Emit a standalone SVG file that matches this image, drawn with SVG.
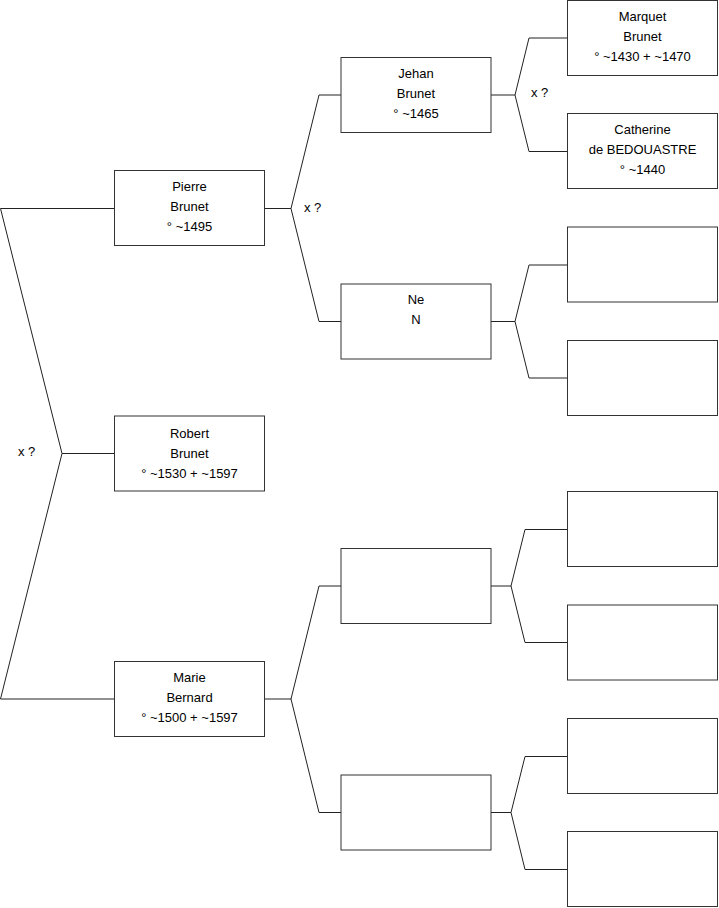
<svg xmlns="http://www.w3.org/2000/svg" width="719" height="908" viewBox="0 0 719 908">
<style>
.box{fill:#fff;stroke:#333;stroke-width:1}
.ln{fill:none;stroke:#222;stroke-width:1}
text{font-family:"Liberation Sans",Arial,sans-serif;font-size:13px;fill:#000;text-anchor:middle}
.lbl{text-anchor:start}
</style>
<rect width="719" height="908" fill="#fff"/>
<g id="connectors">
<polyline class="ln" points="114,208.5 0.5,208.5 62,453.5 0.5,699 114,699"/>
<line class="ln" x1="62" y1="453.5" x2="114" y2="453.5"/>
<polyline class="ln" points="341,95 319,95 291,208.5 319,321.5 341,321.5"/>
<line class="ln" x1="265" y1="208.5" x2="291" y2="208.5"/>
<polyline class="ln" points="341,586 319,586 291,699 319,812.5 341,812.5"/>
<line class="ln" x1="265" y1="699" x2="291" y2="699"/>
<polyline class="ln" points="567,38 529,38 515,95 529,151.5 567,151.5"/>
<line class="ln" x1="491" y1="95" x2="515" y2="95"/>
<polyline class="ln" points="567,265 529,265 515,321.5 529,378 567,378"/>
<line class="ln" x1="491" y1="321.5" x2="515" y2="321.5"/>
<polyline class="ln" points="567,529.5 525,529.5 511,586 525,642.5 567,642.5"/>
<line class="ln" x1="491" y1="586" x2="511" y2="586"/>
<polyline class="ln" points="567,756.5 525,756.5 511,812.5 525,869.5 567,869.5"/>
<line class="ln" x1="491" y1="812.5" x2="511" y2="812.5"/>
</g>
<g id="labels">
<text class="lbl" x="18" y="456">x ?</text>
<text class="lbl" x="304" y="212">x ?</text>
<text class="lbl" x="531" y="97">x ?</text>
</g>
<g id="robert"><rect class="box" x="114.5" y="416" width="150" height="75"/>
<text x="189.5" y="438">Robert</text><text x="189.5" y="458">Brunet</text><text x="189.5" y="478">° ~1530 + ~1597</text></g>
<g id="pierre"><rect class="box" x="114.5" y="170.5" width="150" height="75"/>
<text x="189.5" y="190.5">Pierre</text><text x="189.5" y="210.5">Brunet</text><text x="189.5" y="230.5">° ~1495</text></g>
<g id="marie"><rect class="box" x="114.5" y="661.5" width="150" height="75"/>
<text x="189.5" y="682">Marie</text><text x="189.5" y="702">Bernard</text><text x="189.5" y="722">° ~1500 + ~1597</text></g>
<g id="jehan"><rect class="box" x="341" y="57.5" width="150" height="75"/>
<text x="416" y="78">Jehan</text><text x="416" y="98">Brunet</text><text x="416" y="118">° ~1465</text></g>
<g id="ne"><rect class="box" x="341" y="284" width="150" height="75"/>
<text x="416" y="304">Ne</text><text x="416" y="324">N</text></g>
<g id="g3c"><rect class="box" x="341" y="548.5" width="150" height="75"/></g>
<g id="g3d"><rect class="box" x="341" y="775" width="150" height="75"/></g>
<g id="marquet"><rect class="box" x="567.5" y="0.5" width="150" height="75"/>
<text x="642.5" y="20.5">Marquet</text><text x="642.5" y="40.5">Brunet</text><text x="642.5" y="60.5">° ~1430 + ~1470</text></g>
<g id="catherine"><rect class="box" x="567.5" y="113.5" width="150" height="75"/>
<text x="642.5" y="134">Catherine</text><text x="642.5" y="154">de BEDOUASTRE</text><text x="642.5" y="174">° ~1440</text></g>
<g id="g4c"><rect class="box" x="567.5" y="227" width="150" height="75"/></g>
<g id="g4d"><rect class="box" x="567.5" y="340.5" width="150" height="75"/></g>
<g id="g4e"><rect class="box" x="567.5" y="491.5" width="150" height="75"/></g>
<g id="g4f"><rect class="box" x="567.5" y="605" width="150" height="75"/></g>
<g id="g4g"><rect class="box" x="567.5" y="718.5" width="150" height="75"/></g>
<g id="g4h"><rect class="box" x="567.5" y="831.5" width="150" height="75"/></g>
</svg>
